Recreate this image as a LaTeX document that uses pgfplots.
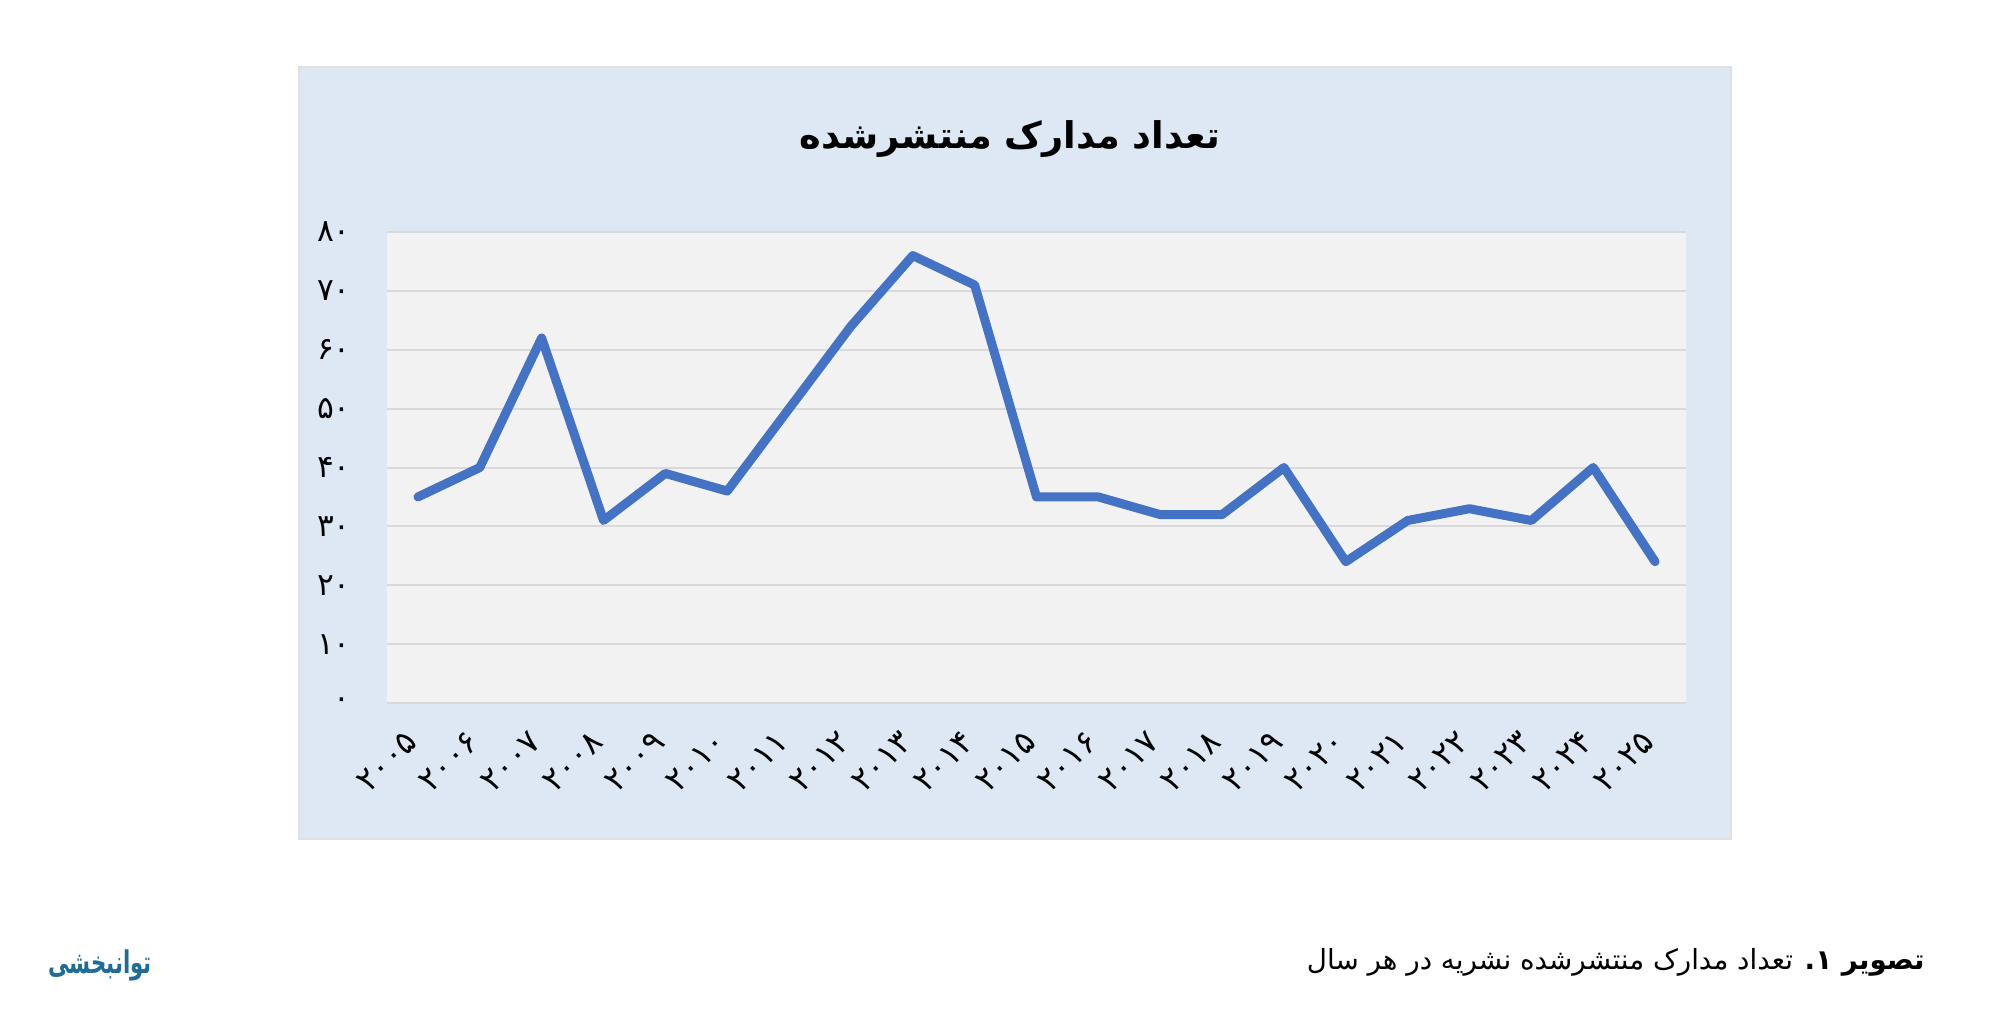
\documentclass[border=0pt]{standalone}
\usepackage{pgfplots}
\pgfplotsset{compat=1.18}
\usepackage{fontspec}
\setmainfont{DejaVu Sans}
\newfontfamily\arabicfont[Script=Arabic]{DejaVu Sans}
\TeXXeTstate=1
\definecolor{panelbg}{HTML}{DEE8F4}
\definecolor{plotbg}{HTML}{F2F2F2}
\definecolor{gridc}{HTML}{D9D9D9}
\definecolor{linec}{HTML}{4472C4}
\definecolor{logoc}{HTML}{1F6C97}
\begin{document}
\begin{tikzpicture}
\path[fill=white] (0,0) rectangle (800pt,412.8pt);
\path[fill=panelbg, draw=black!12, line width=0.8pt] (119.6pt,77.2pt) rectangle (692.4pt,386pt);
\node[font=\arabicfont\bfseries\fontsize{14.7}{18}\selectfont] at (404pt,357pt) {\beginR تعداد مدارک منتشرشده\endR};
\begin{axis}[
  at={(154.8pt,131.6pt)}, anchor=south west,
  scale only axis, width=519.6pt, height=188.4pt,
  xmin=-0.5, xmax=20.5, ymin=0, ymax=80,
  axis background/.style={fill=plotbg},
  axis line style={draw=none},
  major tick style={draw=none},
  ymajorgrids, grid style={gridc, line width=0.8pt},
  ytick={0,10,20,30,40,50,60,70,80},
  yticklabels={۰,۱۰,۲۰,۳۰,۴۰,۵۰,۶۰,۷۰,۸۰},
  xtick={0,1,2,3,4,5,6,7,8,9,10,11,12,13,14,15,16,17,18,19,20},
  xticklabels={۲۰۰۵,۲۰۰۶,۲۰۰۷,۲۰۰۸,۲۰۰۹,۲۰۱۰,۲۰۱۱,۲۰۱۲,۲۰۱۳,۲۰۱۴,۲۰۱۵,۲۰۱۶,۲۰۱۷,۲۰۱۸,۲۰۱۹,۲۰۲۰,۲۰۲۱,۲۰۲۲,۲۰۲۳,۲۰۲۴,۲۰۲۵},
  yticklabel style={font=\arabicfont\fontsize{12.5}{14}\selectfont, xshift=-11pt},
  xticklabel style={font=\arabicfont\fontsize{13}{15}\selectfont, yshift=-11pt, rotate=45, anchor=east},
  clip=false,
]
\addplot[linec, line width=3.6pt, line join=round, line cap=round] coordinates {
(0,35) (1,40) (2,62) (3,31) (4,39) (5,36) (6,50) (7,64) (8,76) (9,71) (10,35)
(11,35) (12,32) (13,32) (14,40) (15,24) (16,31) (17,33) (18,31) (19,40) (20,24)
};
\end{axis}
\node[anchor=base east, font=\arabicfont\fontsize{11.1}{14}\selectfont] at (773.4pt,25.2pt) {\beginR\textbf{تصویر ۱.} تعداد مدارک منتشرشده نشریه در هر سال\endR};
\node[font=\arabicfont\bfseries\fontsize{12.5}{15}\selectfont, text=logoc, xscale=0.68] at (40pt,26.8pt) {\beginR توانبخشی\endR};
\end{tikzpicture}
\end{document}
